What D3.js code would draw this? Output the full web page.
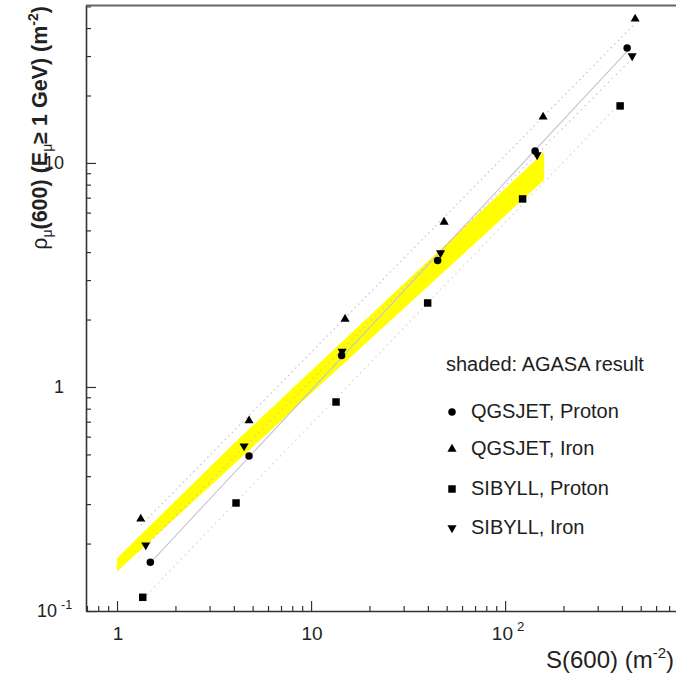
<!DOCTYPE html>
<html><head><meta charset="utf-8">
<script src="https://cdn.jsdelivr.net/npm/d3@7"></script>
<style>body{margin:0;background:#fff}svg{display:block;font-family:"Liberation Sans",Arial,sans-serif}</style>
</head><body>
<svg id="c" width="676" height="679"></svg>
<script>
// ---- data ----
const qgsjetProtonS   = [1.485, 4.79, 14.37, 44.9, 142.8, 425.6];
const qgsjetProtonRho = [0.165, 0.492, 1.382, 3.67, 11.31, 32.6];
const qgsjetIronS     = [1.325, 4.79, 14.97, 48.5, 157, 468];
const qgsjetIronRho   = [0.2575, 0.707, 2.01, 5.45, 16.04, 43.95];
const sibyllProtonS   = [1.357, 4.105, 13.45, 39.9, 123.1, 391.6];
const sibyllProtonRho = [0.1151, 0.3035, 0.857, 2.371, 6.91, 17.97];
const sibyllIronS     = [1.406, 4.515, 14.45, 46.5, 146.2, 451.6];
const sibyllIronRho   = [0.197, 0.545, 1.44, 3.965, 10.86, 30.05];
// AGASA shaded band
const bandS  = [1, 4, 159];
const bandHi = [0.172, 0.56, 11.2];
const bandLo = [0.150, 0.452, 8.4];
// axis ticks
const xMajor = [1, 10, 100];
const yMajor = [0.1, 1, 10];
const seriesNames = ["QGSJET, Proton", "QGSJET, Iron", "SIBYLL, Proton", "SIBYLL, Iron"];

const svg = d3.select("#c");
const x = d3.scaleLog().domain([0.692, 769]).range([86, 677]);
const y = d3.scaleLog().domain([0.1, 50.7]).range([611, 5]);

function logTicks(lo, hi) {
  const out = [];
  for (let e = -2; e <= 3; e++) for (let m = 1; m <= 9; m++) {
    const v = m * Math.pow(10, e);
    if (v >= lo * 0.999 && v <= hi) out.push(v);
  }
  return out;
}
const xTicks = logTicks(x.domain()[0], x.domain()[1]);
const yTicks = logTicks(y.domain()[0], y.domain()[1]);
const isMajor = v => Math.abs(Math.log10(v) - Math.round(Math.log10(v))) < 1e-6;

// band
const bandData = bandS.map((s, i) => ({s, hi: bandHi[i], lo: bandLo[i]}));
svg.append("path").datum(bandData)
  .attr("d", d3.area().x(d => x(d.s)).y0(d => y(d.lo)).y1(d => y(d.hi)))
  .attr("fill", "#ffff00");

const series = [
  {S: qgsjetProtonS, R: qgsjetProtonRho, sym: d3.symbolCircle, size: 44, rot: 0, stroke: "#c4c4d6", dash: null},
  {S: qgsjetIronS, R: qgsjetIronRho, sym: d3.symbolTriangle, size: 36, rot: 0, stroke: "#cbbcc4", dash: "1.5,3.5"},
  {S: sibyllProtonS, R: sibyllProtonRho, sym: d3.symbolSquare, size: 56, rot: 0, stroke: "#d6d2bc", dash: "1.5,4"},
  {S: sibyllIronS, R: sibyllIronRho, sym: d3.symbolTriangle, size: 36, rot: 180, stroke: "#e2b6c6", dash: "1.5,4"}
];

// fit lines (log-log least squares)
series.forEach(sr => {
  const lx = sr.S.map(Math.log10), ly = sr.R.map(Math.log10);
  const mx = d3.mean(lx), my = d3.mean(ly);
  const b = d3.sum(lx.map((v, i) => (v - mx) * (ly[i] - my))) / d3.sum(lx.map(v => (v - mx) ** 2));
  const a = my - b * mx;
  const ends = [d3.min(sr.S), d3.max(sr.S)].map(s => [s, Math.pow(10, a + b * Math.log10(s))]);
  svg.append("path").datum(ends)
    .attr("d", d3.line().x(d => x(d[0])).y(d => y(d[1])))
    .attr("stroke", sr.stroke).attr("stroke-width", 1.1).attr("fill", "none")
    .attr("stroke-dasharray", sr.dash);
});

// markers
series.forEach(sr => {
  svg.append("g").selectAll("path").data(sr.S.map((s, i) => [s, sr.R[i]])).join("path")
    .attr("d", d3.symbol(sr.sym, sr.size))
    .attr("transform", d => `translate(${x(d[0])},${y(d[1])}) rotate(${sr.rot})`)
    .attr("fill", "#000");
});

// axes
const xAxis = svg.append("g").attr("transform", "translate(0,611)")
  .call(d3.axisBottom(x).tickValues(xTicks).tickFormat("").tickSizeOuter(0));
xAxis.select(".domain").attr("stroke", "#333").attr("stroke-width", 1.6);
xAxis.selectAll(".tick line").attr("stroke", "#333").attr("stroke-width", 1.2)
  .attr("y2", d => isMajor(d) ? -10 : -5);
const yAxis = svg.append("g").attr("transform", "translate(86,0)")
  .call(d3.axisLeft(y).tickValues(yTicks).tickFormat("").tickSizeOuter(0));
yAxis.select(".domain").attr("stroke", "#333").attr("stroke-width", 1.6);
yAxis.selectAll(".tick line").attr("stroke", "#333").attr("stroke-width", 1.2)
  .attr("x2", d => isMajor(d) ? 10 : 5);
svg.append("line").attr("x1", 86).attr("x2", 677).attr("y1", 5.5).attr("y2", 5.5)
  .attr("stroke", "#666").attr("stroke-width", 2);

// tick labels
const lab = svg.append("g").attr("fill", "#222");
function powLabel(g, v, fs) {
  const e = Math.round(Math.log10(v));
  if (e === 0) g.append("tspan").text("1");
  else if (e === 1) g.append("tspan").text("10");
  else {
    g.append("tspan").text("10");
    g.append("tspan").attr("dx", 4).attr("dy", -fs * 0.45).attr("font-size", fs * 0.7).text(String(e));
  }
}
xMajor.forEach(v => {
  const e = Math.round(Math.log10(v));
  const t = lab.append("text").attr("font-size", 19).attr("y", 640)
    .attr("x", x(v) + (e > 1 ? 3 : 1)).attr("text-anchor", "middle");
  powLabel(t, v, 19);
});
yMajor.forEach(v => {
  const e = Math.round(Math.log10(v));
  const t = lab.append("text").attr("font-size", 18).attr("y", y(v) + 6)
    .attr("x", e < 0 ? 37 : 64).attr("text-anchor", e < 0 ? "start" : "end");
  powLabel(t, v, 18);
});

// axis titles
const xt = svg.append("text").attr("x", 674).attr("y", 668).attr("text-anchor", "end")
  .attr("font-size", 24).attr("fill", "#222");
xt.append("tspan").text("S(600) (m");
xt.append("tspan").attr("font-size", 15).attr("dy", -10).text("-2");
xt.append("tspan").attr("dy", 10).text(")");

const yt = svg.append("text").attr("transform", "translate(47,6) rotate(-90)")
  .attr("text-anchor", "end").attr("font-size", 21.5).attr("font-weight", "bold").attr("fill", "#222");
yt.append("tspan").attr("font-weight", "normal").text("ρ");
yt.append("tspan").attr("font-size", 14).attr("font-weight", "normal").attr("dy", 5).text("μ");
yt.append("tspan").attr("dy", -5).text("(600) (E");
yt.append("tspan").attr("font-size", 14).attr("font-weight", "normal").attr("dy", 5).text("μ");
yt.append("tspan").attr("dy", -5).text("≥ 1 GeV) (m");
yt.append("tspan").attr("font-size", 14).attr("dy", -9).text("-2");
yt.append("tspan").attr("dy", 9).text(")");

// legend
const leg = svg.append("g").attr("fill", "#1e1e1e").attr("font-size", 20);
leg.append("text").attr("x", 446).attr("y", 371).text("shaded: AGASA result");
const legY = [412, 449, 489, 528];
series.forEach((sr, i) => {
  leg.append("path").attr("d", d3.symbol(sr.sym, sr.size))
    .attr("transform", `translate(452,${legY[i]}) rotate(${sr.rot})`).attr("fill", "#000");
  leg.append("text").attr("x", 471).attr("y", legY[i] + 6).text(seriesNames[i]);
});
</script>
</body></html>
